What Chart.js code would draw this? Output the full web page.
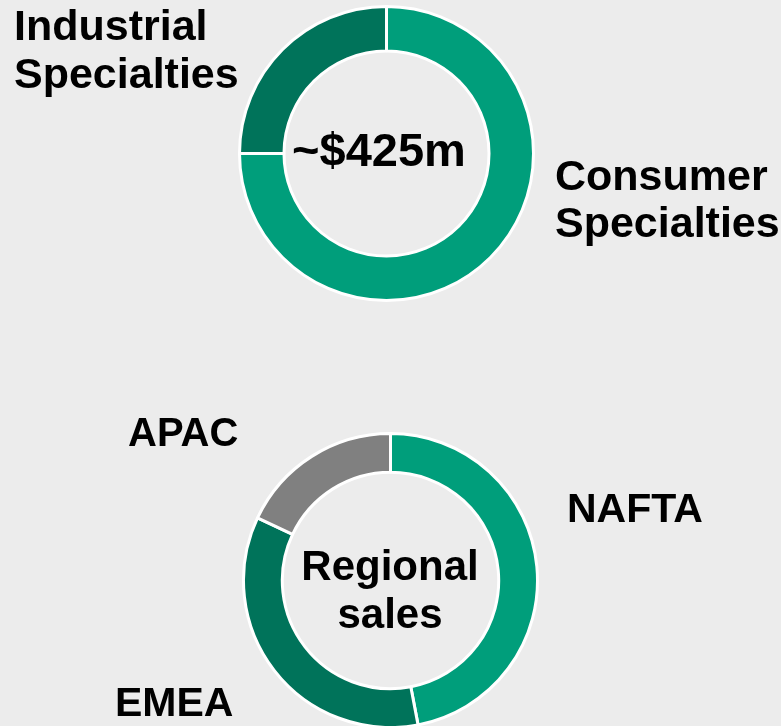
<!DOCTYPE html>
<html>
<head>
<meta charset="utf-8">
<script src="https://cdn.jsdelivr.net/npm/chart.js@4"></script>
<style>
  html, body { margin: 0; padding: 0; background: #ececec; overflow: hidden; }
  .wrap { position: relative; width: 781px; height: 726px; }
  .wrap canvas { position: absolute; left: 0; top: 0; }
</style>
</head>
<body>
<div class="wrap">
  <canvas id="segmentChart" width="781" height="726"></canvas>
  <canvas id="regionChart" width="781" height="726"></canvas>
</div>
<script>
// Segment split (top doughnut)
const segmentLabels = ['Consumer Specialties', 'Industrial Specialties'];
const segmentValues = [75, 25];
const segmentColors = ['#009e7b', '#00735a'];
const segmentCenter = ['~$425m'];

// Regional sales (bottom doughnut)
const regionLabels = ['NAFTA', 'EMEA', 'APAC'];
const regionValues = [47, 35, 18];
const regionColors = ['#009e7b', '#00735a', '#808080'];
const regionCenter = ['Regional', 'sales'];

const FONT = '"Liberation Sans", Arial, Helvetica, sans-serif';

// draws the slice names and the centre caption
const textPlugin = {
    id: 'sliceText',
    afterDraw(chart, args, opts) {
        const ctx = chart.ctx;
        ctx.save();
        ctx.fillStyle = '#000';
        ctx.textBaseline = 'alphabetic';
        opts.items.forEach(function(it) {
            ctx.font = 'bold ' + it.size + 'px ' + FONT;
            ctx.textAlign = it.align || 'left';
            it.lines.forEach(function(line, i) {
                ctx.fillText(line, it.x, it.y + i * it.lh);
            });
        });
        ctx.restore();
    }
};

function makeDoughnut(id, labels, values, colors, padding, items) {
    return new Chart(document.getElementById(id), {
        type: 'doughnut',
        data: {
            labels: labels,
            datasets: [{
                data: values,
                backgroundColor: colors,
                borderColor: '#ffffff',
                borderWidth: 3
            }]
        },
        options: {
            responsive: false,
            animation: false,
            events: [],
            radius: 147,
            cutout: 106,
            layout: { padding: padding },
            plugins: {
                legend: { display: false },
                tooltip: { enabled: false },
                sliceText: { items: items }
            }
        },
        plugins: [textPlugin]
    });
}

makeDoughnut('segmentChart', segmentLabels, segmentValues, segmentColors,
    { left: 0, right: 8, top: 0, bottom: 419 },
    [
        { lines: segmentLabels[1].split(' '), x: 14, y: 40, lh: 48, size: 43 },
        { lines: segmentLabels[0].split(' '), x: 555, y: 190, lh: 47, size: 43 },
        { lines: segmentCenter, x: 379, y: 166, lh: 48, size: 47, align: 'center' }
    ]);

makeDoughnut('regionChart', regionLabels, regionValues, regionColors,
    { left: 0, right: 0, top: 435, bottom: 0 },
    [
        { lines: [regionLabels[0]], x: 567, y: 522, lh: 48, size: 41 },
        { lines: [regionLabels[1]], x: 115, y: 716, lh: 48, size: 41 },
        { lines: [regionLabels[2]], x: 128, y: 446, lh: 48, size: 40 },
        { lines: regionCenter, x: 390, y: 580, lh: 48, size: 42, align: 'center' }
    ]);
</script>
</body>
</html>
